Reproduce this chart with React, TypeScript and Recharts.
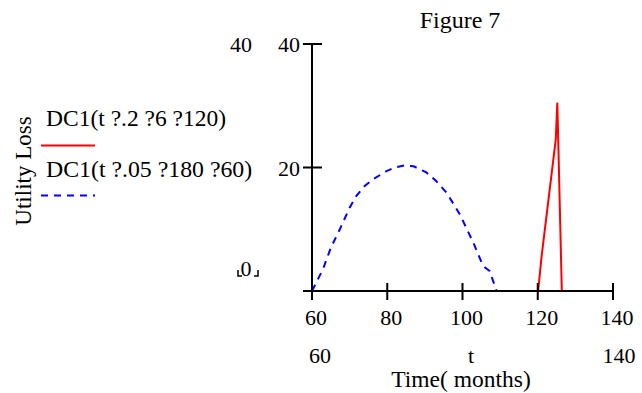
import React from "react";
import { LineChart, Line, XAxis, YAxis } from "recharts";

const xTicks = [60, 80, 100, 120, 140];
const yTicks = [0, 20, 40];
const yTickLabels: Record<number, string> = { 0: "", 20: "20", 40: "40" };

const redT = [120.1, 121, 124.8, 125.2, 126.4];
const redV = [0, 5.5, 24.6, 30.5, 0];

const blueT = [60, 62.9, 65, 67.4, 70, 71.8, 74, 76.2, 79.8, 82, 84.7, 87, 90.4, 93, 95.8, 99.3, 102.9, 105.1, 106, 107.3, 107.8, 109.1];
const blueV = [0, 3.5, 7, 10, 13.5, 15.4, 17, 18.1, 19.4, 20, 20.35, 20.2, 19.2, 17.8, 15.9, 12.4, 7.8, 4.6, 3.8, 3.2, 2.2, 0];

const redData = redT.map((t, i) => ({ t, v: redV[i] }));
const blueData = blueT.map((t, i) => ({ t, v: blueV[i] }));

const legend1 = "DC1(t ?.2 ?6 ?120)";
const legend2 = "DC1(t ?.05 ?180 ?60)";

const FONT = "'Liberation Serif', 'Times New Roman', serif";

const XTick = (props: any) => {
  const { x, y, payload } = props;
  return (
    <g>
      <line x1={x} x2={x} y1={y - 8} y2={y + 9} stroke="#000" strokeWidth={2} />
      <text x={x + 4} y={y + 34} textAnchor="middle" fontFamily={FONT} fontSize={22} fill="#000">
        {payload.value}
      </text>
    </g>
  );
};

const YTick = (props: any) => {
  const { x, y, payload } = props;
  return (
    <g>
      <line x1={x - 9} x2={x + 10} y1={y} y2={y} stroke="#000" strokeWidth={2} />
      <text x={x - 12} y={y + 8} textAnchor="end" fontFamily={FONT} fontSize={22} fill="#000">
        {yTickLabels[payload.value]}
      </text>
    </g>
  );
};

export default function App() {
  return (
    <div style={{ position: "absolute", left: 0, top: 0, width: 642, height: 393, background: "#fff" }}>
      <LineChart
        width={642}
        height={393}
        margin={{ top: 44, right: 29, bottom: 72, left: 282 }}
      >
        <XAxis
          type="number"
          dataKey="t"
          domain={[60, 140]}
          ticks={xTicks}
          allowDataOverflow
          height={30}
          tickSize={0}
          tickMargin={0}
          tickLine={false}
          axisLine={{ stroke: "#000", strokeWidth: 2 }}
          tick={<XTick />}
          interval={0}
        />
        <YAxis
          type="number"
          dataKey="v"
          domain={[0, 40]}
          ticks={yTicks}
          width={30}
          tickSize={0}
          tickMargin={0}
          tickLine={false}
          axisLine={{ stroke: "#000", strokeWidth: 2 }}
          tick={<YTick />}
          interval={0}
        />
        <Line
          data={blueData}
          dataKey="v"
          type="linear"
          stroke="#0000ff"
          strokeWidth={2}
          strokeDasharray="7 6"
          dot={false}
          isAnimationActive={false}
        />
        <Line
          data={redData}
          dataKey="v"
          type="linear"
          stroke="#ff0000"
          strokeWidth={2}
          dot={false}
          isAnimationActive={false}
        />
      </LineChart>
      <svg
        width={642}
        height={393}
        style={{ position: "absolute", left: 0, top: 0, pointerEvents: "none" }}
        fontFamily={FONT}
      >
        <text x={460} y={28} textAnchor="middle" fontSize={24} fill="#000">Figure 7</text>
        <text x={241} y={52} textAnchor="middle" fontSize={22} fill="#000">40</text>
        <text
          x={31}
          y={171}
          textAnchor="middle"
          fontSize={23}
          fill="#000"
          transform="rotate(-90 31 171)"
        >
          Utility Loss
        </text>
        <text x={46} y={126} fontSize={23.5} fill="#000" style={{ whiteSpace: "pre" }}>{legend1}</text>
        <line x1={41} x2={95} y1={145.5} y2={145.5} stroke="#ff0000" strokeWidth={2} />
        <text x={46} y={177} fontSize={23.8} fill="#000" style={{ whiteSpace: "pre" }}>{legend2}</text>
        <line x1={41} x2={95} y1={195.5} y2={195.5} stroke="#0000ff" strokeWidth={2} strokeDasharray="7 6" />
        <text x={246} y={276} textAnchor="middle" fontSize={22} fill="#000">0</text>
        <path d="M238 270 V276 H242 M258 270 V276 H254" stroke="#000" strokeWidth={1.5} fill="none" />
        <text x={320} y={363} textAnchor="middle" fontSize={22} fill="#000">60</text>
        <text x={471} y={363} textAnchor="middle" fontSize={22} fill="#000">t</text>
        <text x={619} y={363} textAnchor="middle" fontSize={22} fill="#000">140</text>
        <text x={461} y={387} textAnchor="middle" fontSize={23.5} fill="#000">Time( months)</text>
      </svg>
    </div>
  );
}
